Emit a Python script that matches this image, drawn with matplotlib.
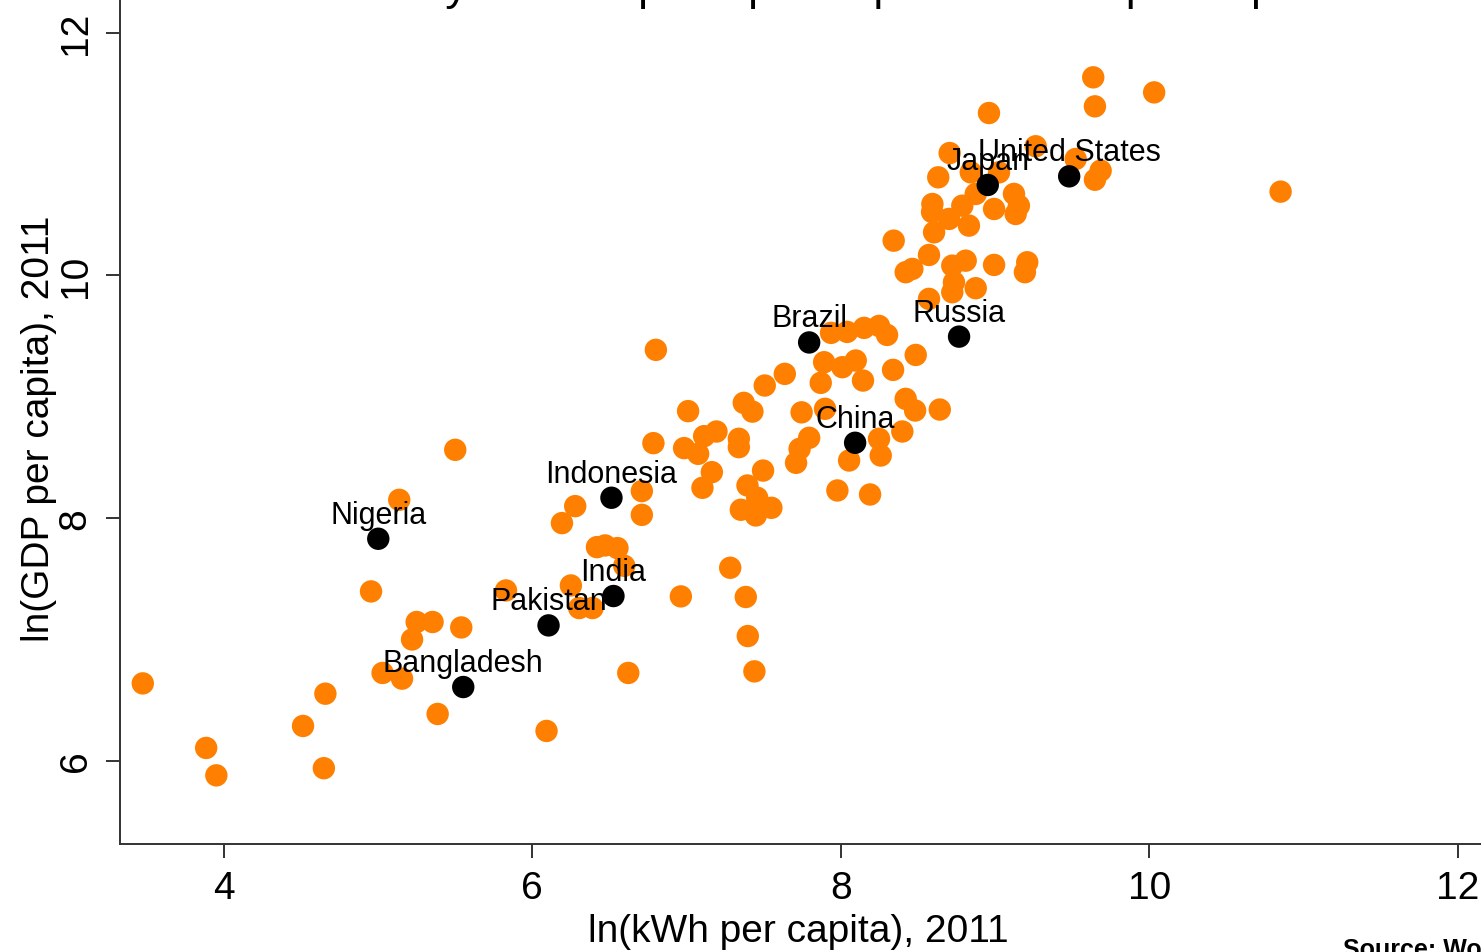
import matplotlib
matplotlib.use("Agg")

import matplotlib.pyplot as plt

plt.rcParams["font.family"] = ["Liberation Sans", "DejaVu Sans"]

# ln(kWh per capita) and ln(GDP per capita), 2011 -- all other countries
kwh_other = [
    3.474, 3.885, 3.951, 4.513, 4.658, 4.648, 4.954, 5.137, 5.500, 5.029,
    5.155, 5.250, 5.353, 5.220, 5.539, 5.386, 5.829, 6.092, 6.622, 6.250,
    6.304, 6.390, 6.419, 6.472, 6.552, 6.596, 6.963, 6.278, 6.192, 6.710,
    6.710, 6.801, 7.010, 6.785, 6.984, 7.075, 7.114, 7.194, 7.339, 7.339,
    7.371, 7.427, 7.507, 7.637, 7.746, 7.795, 7.733, 7.710, 7.164, 7.103,
    7.496, 7.395, 7.352, 7.449, 7.550, 7.458, 7.283, 7.384, 7.397, 7.440,
    7.937, 8.041, 8.151, 8.248, 8.300, 8.486, 8.339, 7.892, 8.010, 8.097,
    7.870, 8.144, 7.898, 8.421, 8.482, 8.642, 8.399, 8.248, 8.054, 8.259,
    7.978, 8.190,
    8.706, 8.632, 9.264, 8.843, 9.026, 8.875, 8.788, 8.594, 8.592, 8.702,
    8.831, 8.605, 8.994, 9.123, 9.155, 9.134, 8.343, 8.572, 8.464, 8.421,
    8.810, 8.723, 8.734, 8.875, 8.994, 9.209, 9.194, 8.572, 8.723,
    9.637, 10.032, 9.648, 8.961, 10.852, 9.523, 9.685, 9.648,
]
gdp_other = [
    6.636, 6.104, 5.878, 6.285, 6.551, 5.937, 7.394, 8.149, 8.561, 6.722,
    6.675, 7.142, 7.142, 6.998, 7.097, 6.384, 7.402, 6.244, 6.722, 7.443,
    7.257, 7.257, 7.759, 7.773, 7.751, 7.605, 7.353, 8.097, 7.957, 8.221,
    8.025, 9.385, 8.880, 8.616, 8.575, 8.528, 8.674, 8.712, 8.652, 8.583,
    8.948, 8.876, 9.091, 9.187, 8.870, 8.660, 8.569, 8.454, 8.377, 8.248,
    8.390, 8.267, 8.067, 8.020, 8.083, 8.166, 7.589, 7.348, 7.026, 6.735,
    9.525, 9.533, 9.566, 9.582, 9.508, 9.343, 9.220, 9.283, 9.242, 9.297,
    9.113, 9.132, 8.899, 8.981, 8.885, 8.893, 8.712, 8.652, 8.473, 8.514,
    8.226, 8.193,
    11.007, 10.807, 11.063, 10.848, 10.848, 10.670, 10.573, 10.587, 10.521, 10.464,
    10.409, 10.354, 10.546, 10.670, 10.573, 10.505, 10.285, 10.167, 10.052, 10.025,
    10.120, 10.079, 9.942, 9.893, 10.085, 10.107, 10.025, 9.805, 9.860,
    11.631, 11.507, 11.392, 11.337, 10.689, 10.958, 10.862, 10.787,
]

# highlighted countries
countries = ["Nigeria", "Bangladesh", "Pakistan", "India", "Indonesia",
             "China", "Brazil", "Russia", "Japan", "United States"]
kwh_named = [5.001, 5.552, 6.105, 6.526, 6.513, 8.093, 7.795, 8.767, 8.953, 9.481]
gdp_named = [7.828, 6.606, 7.114, 7.356, 8.166, 8.619, 9.446, 9.494, 10.744, 10.815]

x_ticks = [4, 6, 8, 10, 12]
y_ticks = [6, 8, 10, 12]

fig = plt.figure(figsize=(14.81, 9.53), dpi=100)
ax = fig.add_axes([0.081, 0.1133, 0.9553, 0.9024])

ax.scatter(kwh_other, gdp_other, s=260, color="#ff8000", edgecolors="none",
           zorder=2, clip_on=False)
ax.scatter(kwh_named, gdp_named, s=260, color="black", edgecolors="none",
           zorder=3, clip_on=False)

for name, xv, yv in zip(countries, kwh_named, gdp_named):
    ax.annotate(name, (xv, yv), xytext=(0, 11.5), textcoords="offset points",
                ha="center", va="baseline", fontsize=22, color="black", zorder=4)

ax.set_xlim(3.326, 12.5)
ax.set_ylim(5.312, 12.4)
ax.set_xticks(x_ticks)
ax.set_yticks(y_ticks)
ax.set_xticklabels([str(t) for t in x_ticks])
ax.set_yticklabels([str(t) for t in y_ticks], rotation=90, va="center")

for side in ["top", "right"]:
    ax.spines[side].set_visible(False)
for side in ["left", "bottom"]:
    ax.spines[side].set_linewidth(1.4)
    ax.spines[side].set_color("#333333")

ax.tick_params(axis="both", direction="out", length=10, width=1.4,
               color="#333333", labelsize=28)
ax.tick_params(axis="x", pad=9)
ax.tick_params(axis="y", pad=9)

ax.set_xlabel("ln(kWh per capita), 2011", fontsize=28)
ax.xaxis.set_label_coords(0.5388, 0.041, transform=fig.transFigure)
ax.set_ylabel("ln(GDP per capita), 2011", fontsize=28)
ax.yaxis.set_label_coords(0.0385, 0.5498, transform=fig.transFigure)

fig.text(275 / 1481, 0.9995, "Electricity consumption per capita vs GDP per capita",
         fontsize=32.5, ha="left", va="baseline")
fig.text(1343 / 1481, -0.0042, "Source: World Bank, World Development Indicators",
         fontsize=18, fontweight="bold", ha="left", va="baseline")

fig.savefig("out.png", dpi=100)
plt.close(fig)
